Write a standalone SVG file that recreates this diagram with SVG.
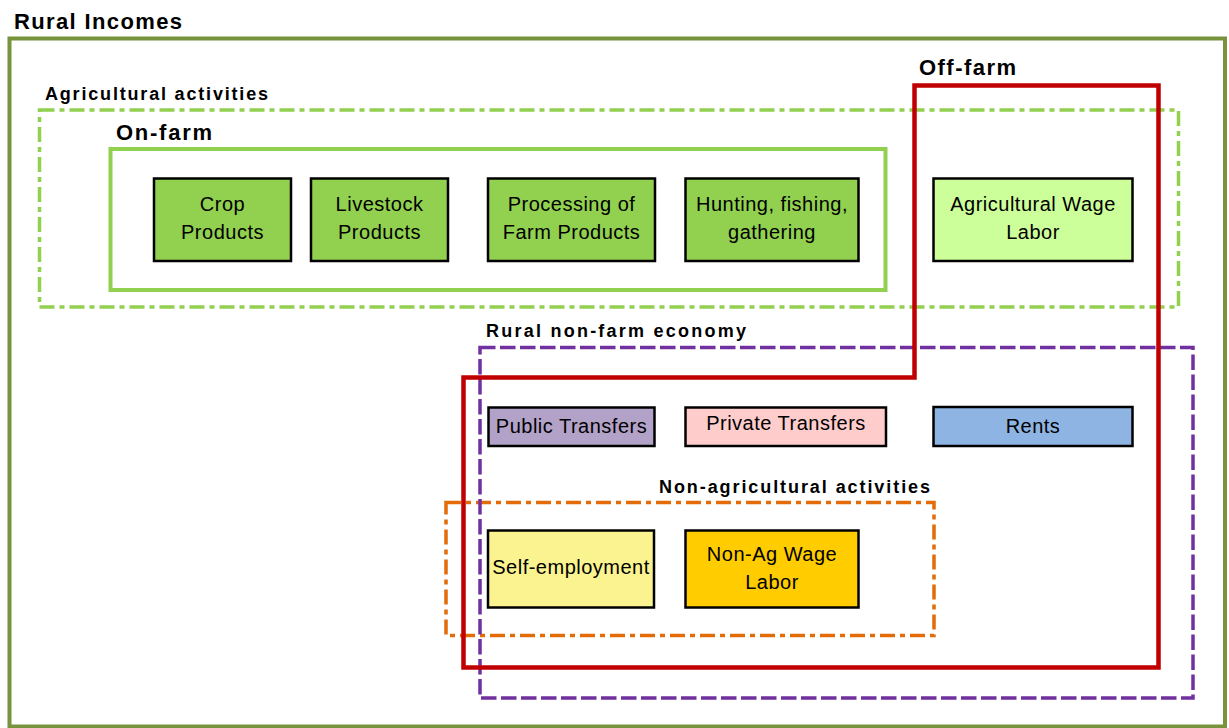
<svg xmlns="http://www.w3.org/2000/svg" width="1229" height="728" viewBox="0 0 1229 728">
<style>
.title{font-family:"Liberation Sans",Arial,sans-serif;font-weight:bold;fill:#000}
.t22{font-size:22px}
.t18{font-size:18px}
.box{stroke:#000;stroke-width:2.5}
.lbl{font-family:"Liberation Sans",Arial,sans-serif;font-size:20px;fill:#000;text-anchor:middle;letter-spacing:0.5px}
.frame{fill:none}
</style>
<rect width="1229" height="728" fill="#fff"/>
<g id="containers">
<g id="rural-incomes">
<rect class="frame" x="9.5" y="38.5" width="1215.5" height="688" stroke="#77933C" stroke-width="4"/>
<text class="title t22" x="14" y="29" textLength="168" lengthAdjust="spacing">Rural Incomes</text>
</g>
<g id="agricultural-activities">
<rect class="frame" x="39.5" y="110" width="1139" height="197" stroke="#92D050" stroke-width="3.5" stroke-dasharray="15 5 5 5"/>
<text class="title t18" x="45" y="100" textLength="223" lengthAdjust="spacing">Agricultural activities</text>
</g>
<g id="on-farm">
<rect class="frame" x="110.5" y="149" width="775" height="141" stroke="#92D050" stroke-width="4"/>
<text class="title t22" x="116" y="140" textLength="96" lengthAdjust="spacing">On-farm</text>
</g>
<g id="non-agricultural-activities">
<rect class="frame" x="446" y="502.5" width="488" height="133" stroke="#E36C09" stroke-width="3.5" stroke-dasharray="15 5 5 5"/>
<text class="title t18" x="659" y="493" textLength="271" lengthAdjust="spacing">Non-agricultural activities</text>
</g>
<g id="rural-non-farm-economy">
<rect class="frame" x="480" y="347.5" width="713" height="350.5" stroke="#7030A0" stroke-width="3.5" stroke-dasharray="15.5 4.5"/>
<text class="title t18" x="486" y="337" textLength="260" lengthAdjust="spacing">Rural non-farm economy</text>
</g>
<g id="off-farm">
<polygon class="frame" points="914.5,85.5 1158.5,85.5 1158.5,667.5 463.5,667.5 463.5,377.5 914.5,377.5" stroke="#C00000" stroke-width="4.5"/>
<text class="title t22" x="919" y="75" textLength="97" lengthAdjust="spacing">Off-farm</text>
</g>
</g>
<g id="connectors"></g>
<g id="crop-products">
<rect class="box" x="154" y="178.5" width="137" height="82.5" fill="#92D050"/>
<text class="lbl" x="222.5" y="211">Crop</text>
<text class="lbl" x="222.5" y="239">Products</text>
</g>
<g id="livestock-products">
<rect class="box" x="311" y="178.5" width="137" height="82.5" fill="#92D050"/>
<text class="lbl" x="379.5" y="211">Livestock</text>
<text class="lbl" x="379.5" y="239">Products</text>
</g>
<g id="processing">
<rect class="box" x="488" y="178.5" width="167" height="82.5" fill="#92D050"/>
<text class="lbl" x="571.5" y="211">Processing of</text>
<text class="lbl" x="571.5" y="239">Farm Products</text>
</g>
<g id="hunting">
<rect class="box" x="685.5" y="178.5" width="173" height="82.5" fill="#92D050"/>
<text class="lbl" x="772" y="211">Hunting, fishing,</text>
<text class="lbl" x="772" y="239">gathering</text>
</g>
<g id="ag-wage-labor">
<rect class="box" x="933.5" y="178.5" width="199" height="82.5" fill="#CCFF99"/>
<text class="lbl" x="1033" y="211">Agricultural Wage</text>
<text class="lbl" x="1033" y="239">Labor</text>
</g>
<g id="public-transfers">
<rect class="box" x="488.5" y="407.5" width="166" height="38.5" fill="#B3A2C7"/>
<text class="lbl" x="571.5" y="433">Public Transfers</text>
</g>
<g id="private-transfers">
<rect class="box" x="685.5" y="407.5" width="200.5" height="38.5" fill="#FFCCCC"/>
<text class="lbl" x="786" y="430">Private Transfers</text>
</g>
<g id="rents">
<rect class="box" x="933.5" y="407" width="199" height="39" fill="#8EB4E3"/>
<text class="lbl" x="1033" y="432.5">Rents</text>
</g>
<g id="self-employment">
<rect class="box" x="488" y="530.5" width="166" height="77" fill="#FAF38F"/>
<text class="lbl" x="571" y="573.5">Self-employment</text>
</g>
<g id="non-ag-wage-labor">
<rect class="box" x="685.5" y="530.5" width="173" height="77" fill="#FFCC00"/>
<text class="lbl" x="772" y="561">Non-Ag Wage</text>
<text class="lbl" x="772" y="588.5">Labor</text>
</g>
</svg>
